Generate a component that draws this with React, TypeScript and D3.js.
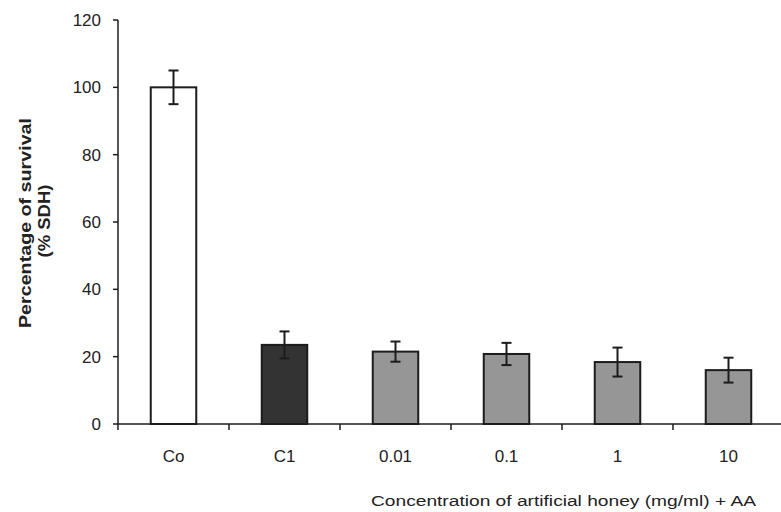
import React from 'react';
import * as d3 from 'd3';

const categories = ['Co', 'C1', '0.01', '0.1', '1', '10'];
const survival = [100, 23.5, 21.5, 20.8, 18.4, 16];
const sd = [5, 4, 3, 3.3, 4.3, 3.7];
const barFill = ['#ffffff', '#333333', '#969696', '#969696', '#969696', '#969696'];
const yTicks = [0, 20, 40, 60, 80, 100, 120];

const width = 781;
const height = 512;
const margin = { top: 20, right: -3, bottom: 88, left: 118 };

const App = () => {
  const x = d3.scaleBand()
    .domain(categories)
    .range([margin.left, width - margin.right])
    .paddingInner(0.59)
    .paddingOuter(0.295);

  const y = d3.scaleLinear()
    .domain([0, 120])
    .range([height - margin.bottom, margin.top]);

  const ink = '#1c1c1c';
  const font = 'Arial, "Liberation Sans", sans-serif';
  const step = x.step();
  const y0 = y(0);

  return (
    <svg width={width} height={height}
      style={{ position: 'absolute', left: 0, top: 0, background: '#fff' }}>
      {/* bars */}
      {categories.map((c, i) => (
        <rect key={c}
          x={x(c)}
          y={y(survival[i])}
          width={x.bandwidth()}
          height={y0 - y(survival[i])}
          fill={barFill[i]}
          stroke={ink}
          strokeWidth={2} />
      ))}

      {/* error bars */}
      {categories.map((c, i) => {
        const cx = (x(c) as number) + x.bandwidth() / 2;
        const top = y(survival[i] + sd[i]);
        const bot = y(survival[i] - sd[i]);
        return (
          <g key={'e' + c} stroke={ink} strokeWidth={2}>
            <line x1={cx} x2={cx} y1={top} y2={bot} />
            <line x1={cx - 5} x2={cx + 5} y1={top} y2={top} />
            <line x1={cx - 5} x2={cx + 5} y1={bot} y2={bot} />
          </g>
        );
      })}

      {/* y axis */}
      <line x1={margin.left} x2={margin.left} y1={y(120)} y2={y0} stroke={ink} strokeWidth={1.5} />
      {yTicks.map(t => (
        <g key={t}>
          <line x1={margin.left - 5} x2={margin.left} y1={y(t)} y2={y(t)} stroke={ink} strokeWidth={1.5} />
          <text x={margin.left - 17} y={y(t)} dy="0.36em" textAnchor="end"
            fontFamily={font} fontSize={17} fill="#222">{t}</text>
        </g>
      ))}

      {/* x axis */}
      <line x1={margin.left} x2={width} y1={y0} y2={y0} stroke={ink} strokeWidth={1.5} />
      {categories.map((c, i) => (
        <line key={'t' + c}
          x1={margin.left + step * (i + 1)} x2={margin.left + step * (i + 1)}
          y1={y0} y2={y0 + 6} stroke={ink} strokeWidth={1.5} />
      ))}
      <line x1={margin.left} x2={margin.left} y1={y0} y2={y0 + 6} stroke={ink} strokeWidth={1.5} />
      {categories.map(c => (
        <text key={'l' + c}
          x={(x(c) as number) + x.bandwidth() / 2} y={y0 + 38}
          textAnchor="middle" fontFamily={font} fontSize={17} fill="#222">{c}</text>
      ))}

      {/* titles */}
      <text x={371} y={506} fontFamily={font} fontSize={14} fill="#222"
        textLength={385} lengthAdjust="spacingAndGlyphs">
        Concentration of artificial honey (mg/ml) + AA
      </text>
      <g transform="translate(31,223) rotate(-90)">
        <text x={0} y={0} textAnchor="middle" fontFamily={font} fontSize={17}
          fontWeight="bold" fill="#222" textLength={210} lengthAdjust="spacingAndGlyphs">
          Percentage of survival
        </text>
        <text x={2} y={19} textAnchor="middle" fontFamily={font} fontSize={16}
          fontWeight="bold" fill="#222" textLength={73} lengthAdjust="spacingAndGlyphs">
          (% SDH)
        </text>
      </g>
    </svg>
  );
};

export default App;
